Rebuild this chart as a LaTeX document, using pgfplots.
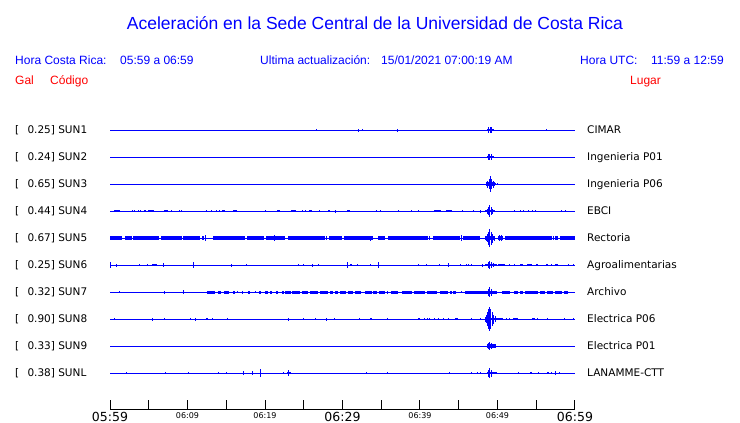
\documentclass[border=0pt]{standalone}
\usepackage{pgfplots}
\pgfplotsset{compat=1.18}
\usepackage{fontspec}
\setmainfont{Liberation Sans}
\newfontfamily\dv{DejaVu Sans}
\definecolor{tr}{RGB}{0,0,255}
\definecolor{hd}{RGB}{255,0,0}

\pgfplotsset{
  base/.style={color=tr, line width=1pt, mark=none},
  spk/.style={color=tr, line width=1pt, mark=none,
    error bars/y dir=both, error bars/y explicit, error bars/error mark=none,
    error bars/error bar style={draw=tr, line width=1pt}},
  band/.style={color=tr, line width=1pt, mark=none,
    error bars/x dir=both, error bars/x explicit, error bars/error mark=none,
    error bars/error bar style={draw=tr, line width=#1}},
}
\newcommand{\bigt}[1]{{\dv\fontsize{12.5}{12.5}\selectfont #1}}
\newcommand{\smlt}[1]{{\dv\fontsize{8}{8}\selectfont #1}}

\begin{document}
\begin{tikzpicture}[x=1pt,y=1pt]
\useasboundingbox (0,0) rectangle (740,-423);

\begin{axis}[
  at={(110pt,-409pt)}, anchor=south west,
  scale only axis, width=465pt, height=306pt,
  xmin=0, xmax=60, ymin=0, ymax=306,
  axis x line=bottom, axis y line=none,
  x axis line style={-, black, line width=1pt},
  xtick={0,5,...,60},
  xticklabels={\bigt{05:59},,\smlt{06:09},,\smlt{06:19},,\bigt{06:29},,\smlt{06:39},,\smlt{06:49},,\bigt{06:59}},
  xtick align=inside, major tick length=9pt,
  x tick style={black, line width=1pt},
  xticklabel style={inner sep=0pt, anchor=north, yshift=-3pt},
  ytick=\empty, clip=false,
]
% SUN1 CIMAR
\addplot[base] coordinates {(0,279)(60,279)};
\addplot[spk] coordinates {(26.62,279)+-(0,0.8) (32.04,279)+-(0,1.5) (32.56,279)+-(0,1) (37.08,279)+-(0,1.5) (56.34,279)+-(0,1)
  (48.90,279)+-(0,3.3) (49.07,279)+-(0,3.3) (49.25,279)+-(0,3.3)};
\addplot[band=2.7pt] coordinates {(49.08,279)+-(0.47,0)};

% SUN2 Ingenieria P01
\addplot[base] coordinates {(0,252)(60,252)};
\addplot[spk] coordinates {(48.82,252)+-(0,3.3) (49.03,252)+-(0,3.3) (49.25,252)+-(0,3.3)};
\addplot[band=2.7pt] coordinates {(49.08,252)+-(0.47,0)};

% SUN3 Ingenieria P06
\addplot[base] coordinates {(0,225)(60,225)};
\addplot[spk] coordinates {(49.12,225)+-(0,8.3) (48.95,225)+-(0,5) (49.29,225)+-(0,5) (48.77,225)+-(0,3.5) (49.46,225)+-(0,3.5)
  (49.80,225)+-(0,1.2) (50.01,225)+-(0,1)};
\addplot[band=4pt] coordinates {(49.10,225)+-(0.58,0)};

% SUN4 EBCI
\addplot[base] coordinates {(0,198)(60,198)};
\addplot[spk] coordinates {(2.88,198)+-(0,1.3) (3.14,198)+-(0,1.3) (3.74,198)+-(0,1.3) (3.96,198)+-(0,1.3) (4.39,198)+-(0,1.3)
  (4.60,198)+-(0,1.3) (7.96,198)+-(0,1) (9.03,198)+-(0,1.3) (9.25,198)+-(0,1.3) (12.47,198)+-(0,1.3) (13.12,198)+-(0,1)
  (13.68,198)+-(0,1.3) (14.15,198)+-(0,1.3) (20.00,198)+-(0,1.3) (24.86,198)+-(0,1) (25.25,198)+-(0,1) (27.01,198)+-(0,1)
  (28.13,198)+-(0,1.3) (28.30,198)+-(0,1) (29.12,198)+-(0,1.5) (34.41,198)+-(0,1) (34.88,198)+-(0,1) (37.25,198)+-(0,1.3)
  (38.88,198)+-(0,1.3) (39.78,198)+-(0,1.3) (45.46,198)+-(0,1) (46.88,198)+-(0,1) (47.87,198)+-(0,1.5) (52.17,198)+-(0,1)
  (52.95,198)+-(0,1.3) (53.38,198)+-(0,1.3) (54.06,198)+-(0,1.3) (54.49,198)+-(0,1.3) (54.84,198)+-(0,1.3) (58.24,198)+-(0,1)
  (58.75,198)+-(0,1.3)
  (49.03,198)+-(0,6) (48.86,198)+-(0,4) (49.20,198)+-(0,4) (48.69,198)+-(0,2.5) (49.37,198)+-(0,2.5)};
\addplot[band=2.7pt] coordinates {(0.88,198)+-(0.37,0) (5.33,198)+-(0.39,0) (7.18,198)+-(0.26,0) (14.67,198)+-(0.17,0)
  (16.13,198)+-(0.26,0) (21.72,198)+-(0.17,0) (23.63,198)+-(0.32,0) (25.85,198)+-(0.17,0) (30.75,198)+-(0.22,0)
  (42.26,198)+-(0.45,0) (43.72,198)+-(0.37,0) (49.03,198)+-(0.65,0)};

% SUN5 Rectoria
\addplot[base] coordinates {(0,171)(60,171)};
\addplot[spk] coordinates {(6.67,171)+-(0,2) (12.26,171)+-(0,3) (18.06,171)+-(0,2) (18.37,171)+-(0,2) (21.29,171)+-(0,3)
  (23.66,171)+-(0,2) (26.37,171)+-(0,2) (27.96,171)+-(0,2) (33.63,171)+-(0,2.5) (41.29,171)+-(0,2) (45.16,171)+-(0,2)
  (45.38,171)+-(0,3) (45.55,171)+-(0,2) (50.24,171)+-(0,3) (50.54,171)+-(0,3) (57.20,171)+-(0,2) (57.76,171)+-(0,1.5)
  (49.03,171)+-(0,9.3) (48.86,171)+-(0,6.5) (49.20,171)+-(0,6.5) (48.69,171)+-(0,4) (49.37,171)+-(0,4.5)
  (48.52,171)+-(0,2.5) (49.55,171)+-(0,2.5)};
\addplot[band=3.3pt] coordinates {(0.795,171)+-(0.795,0) (2.41,171)+-(0.47,0) (4.645,171)+-(1.675,0) (7.915,171)+-(1.335,0)
  (10.515,171)+-(1.095,0) (11.98,171)+-(0.15,0) (15.375,171)+-(2.045,0) (18.77,171)+-(1.14,0) (21.335,171)+-(1.245,0)
  (25.33,171)+-(2.41,0) (29.12,171)+-(0.86,0) (32.02,171)+-(1.87,0) (35.05,171)+-(0.43,0) (38.49,171)+-(2.58,0)
  (43.375,171)+-(1.655,0) (46.665,171)+-(1.075,0) (49.035,171)+-(0.645,0) (50.43,171)+-(0.32,0) (53.98,171)+-(3.01,0)
  (57.635,171)+-(0.215,0) (59.03,171)+-(0.97,0)};

% SUN6 Agroalimentarias
\addplot[base] coordinates {(0,144)(60,144)};
\addplot[spk] coordinates {(0.09,144)+-(0,3.3) (0.86,144)+-(0,1.5) (3.78,144)+-(0,1) (4.86,144)+-(0,1.3) (6.92,144)+-(0,2.3)
  (10.75,144)+-(0,3) (15.70,144)+-(0,1.5) (17.63,144)+-(0,1) (24.30,144)+-(0,1.3) (24.99,144)+-(0,1.3) (26.19,144)+-(0,1.5)
  (26.88,144)+-(0,1) (30.62,144)+-(0,3) (31.91,144)+-(0,1) (33.55,144)+-(0,1) (34.62,144)+-(0,3) (39.78,144)+-(0,1)
  (40.90,144)+-(0,1) (42.58,144)+-(0,1) (43.66,144)+-(0,2) (45.29,144)+-(0,1) (46.02,144)+-(0,1) (46.32,144)+-(0,1)
  (46.67,144)+-(0,1) (48.04,144)+-(0,1.5) (51.61,144)+-(0,1) (52.17,144)+-(0,1) (56.99,144)+-(0,1) (59.14,144)+-(0,1)
  (59.78,144)+-(0,1)
  (49.03,144)+-(0,4) (48.82,144)+-(0,3) (49.25,144)+-(0,3) (49.50,144)+-(0,2)};
\addplot[band=2.5pt] coordinates {(5.74,144)+-(0.28,0) (31.075,144)+-(0.105,0) (50.54,144)+-(0.43,0) (53.075,144)+-(0.175,0)
  (54.085,144)+-(0.325,0) (55.12,144)+-(0.15,0) (56.385,144)+-(0.175,0) (57.635,144)+-(0.215,0) (49.14,144)+-(0.75,0)};

% SUN7 Archivo
\addplot[base] coordinates {(0,117)(60,117)};
\addplot[spk] coordinates {(1.29,117)+-(0,1) (7.01,117)+-(0,1.5) (9.51,117)+-(0,2.2) (16.47,117)+-(0,1.3) (18.80,117)+-(0,1.3)
  (45.38,117)+-(0,1.3)
  (49.03,117)+-(0,4.7) (48.86,117)+-(0,3.5) (49.20,117)+-(0,3.5)};
\addplot[band=3pt] coordinates {(13.01,117)+-(0.54,0) (14.15,117)+-(0.17,0) (15.05,117)+-(0.30,0) (15.98,117)+-(0.15,0)
  (17.095,117)+-(0.105,0) (17.935,117)+-(0.175,0) (19.315,117)+-(0.085,0) (20.215,117)+-(0.215,0) (20.775,117)+-(0.175,0)
  (21.59,117)+-(0.13,0) (22.26,117)+-(0.11,0) (22.965,117)+-(0.385,0) (24.025,117)+-(0.495,0) (25.115,117)+-(0.385,0)
  (26.365,117)+-(0.515,0) (27.615,117)+-(0.475,0) (28.625,117)+-(0.195,0) (29.245,117)+-(0.215,0) (30.045,117)+-(0.365,0)
  (31.075,117)+-(0.325,0) (32.00,117)+-(0.39,0) (33.33,117)+-(0.43,0) (34.195,117)+-(0.215,0) (35.095,117)+-(0.385,0)
  (35.805,117)+-(0.105,0) (36.73,117)+-(0.47,0) (38.275,117)+-(0.645,0) (39.955,117)+-(0.685,0) (41.505,117)+-(0.645,0)
  (43.12,117)+-(0.54,0) (43.98,117)+-(0.11,0) (44.45,117)+-(0.15,0) (47.85,117)+-(2.04,0) (51.075,117)+-(0.535,0)
  (52.41,117)+-(0.28,0) (53.115,117)+-(0.215,0) (54.41,117)+-(0.86,0) (55.805,117)+-(0.325,0) (56.77,117)+-(0.43,0)
  (57.895,117)+-(0.475,0) (58.88,117)+-(0.26,0)};

% SUN8 Electrica P06
\addplot[base] coordinates {(0,90)(60,90)};
\addplot[spk] coordinates {(0.56,90)+-(0,1) (5.46,90)+-(0,1.5) (7.01,90)+-(0,1) (10.36,90)+-(0,1) (11.05,90)+-(0,1.5)
  (13.20,90)+-(0,1) (15.18,90)+-(0,1) (23.01,90)+-(0,1.5) (24.95,90)+-(0,1) (26.49,90)+-(0,1) (27.91,90)+-(0,1.5)
  (29.03,90)+-(0,1) (32.17,90)+-(0,1) (35.83,90)+-(0,1) (40.56,90)+-(0,1) (40.99,90)+-(0,1) (41.29,90)+-(0,1)
  (41.85,90)+-(0,1) (42.37,90)+-(0,1) (43.01,90)+-(0,1) (43.66,90)+-(0,1) (46.67,90)+-(0,1.3) (47.78,90)+-(0,1.3)
  (51.18,90)+-(0,1) (51.53,90)+-(0,1) (55.18,90)+-(0,1) (56.47,90)+-(0,1.3) (58.62,90)+-(0,1) (59.78,90)+-(0,1)
  (49.03,90)+-(0,12) (48.90,90)+-(0,10) (49.16,90)+-(0,10) (48.73,90)+-(0,7) (49.33,90)+-(0,7) (48.60,90)+-(0,4)
  (49.50,90)+-(0,4.5) (49.68,90)+-(0,3) (48.47,90)+-(0,2.5)};
\addplot[band=2.7pt] coordinates {(12.535,90)+-(0.145,0) (33.72,90)+-(0.13,0) (39.89,90)+-(0.11,0) (44.735,90)+-(0.215,0)
  (52.365,90)+-(0.325,0) (54.665,90)+-(0.175,0) (50.32,90)+-(0.43,0) (49.14,90)+-(0.75,0)};

% SUN9 Electrica P01
\addplot[base] coordinates {(0,63)(60,63)};
\addplot[spk] coordinates {(48.82,63)+-(0,3) (49.03,63)+-(0,4) (49.25,63)+-(0,3)};
\addplot[band=3.3pt] coordinates {(49.18,63)+-(0.58,0)};

% SUNL LANAMME-CTT
\addplot[base] coordinates {(0,36)(60,36)};
\addplot[spk] coordinates {(2.15,36)+-(0,1) (7.10,36)+-(0,1) (10.11,36)+-(0,1.3) (13.98,36)+-(0,1.3) (15.05,36)+-(0,1)
  (17.20,36)+-(0,2.3) (18.37,36)+-(0,2) (19.48,36)+-(0,4) (22.45,36)+-(0,1) (23.05,36)+-(0,3) (33.12,36)+-(0,1)
  (35.83,36)+-(0,1) (43.87,36)+-(0,1) (46.67,36)+-(0,1.3) (47.40,36)+-(0,1) (47.87,36)+-(0,1) (52.69,36)+-(0,1)
  (55.27,36)+-(0,1) (56.99,36)+-(0,1) (57.51,36)+-(0,2.3) (57.94,36)+-(0,1)
  (49.03,36)+-(0,5) (48.86,36)+-(0,3.5) (49.20,36)+-(0,3.5)};
\addplot[band=2.7pt] coordinates {(23.075,36)+-(0.275,0) (49.245,36)+-(0.645,0) (54.34,36)+-(0.15,0) (56.49,36)+-(0.15,0)};
\end{axis}

% titles and headers
\node[anchor=base, text=tr, inner sep=0pt, font=\fontsize{17.5}{17.5}\selectfont] at (375,-29.5)
  {Aceleración en la Sede Central de la Universidad de Costa Rica};
\begin{scope}[every node/.style={anchor=base west, inner sep=0pt, font=\fontsize{12}{12}\selectfont}]
  \node[text=tr] at (15,-64.3) {Hora Costa Rica:};
  \node[text=tr] at (120,-64.3) {05:59 a 06:59};
  \node[text=tr] at (260,-64.3) {Ultima actualización:};
  \node[text=tr] at (381,-64.3) {15/01/2021 07:00:19 AM};
  \node[text=tr] at (580,-64.3) {Hora UTC:};
  \node[text=tr] at (651,-64.3) {11:59 a 12:59};
  \node[text=hd] at (15,-84.3) {Gal};
  \node[text=hd] at (50,-84.3) {Código};
  \node[text=hd] at (630,-84.3) {Lugar};
\end{scope}

% station labels
\begin{scope}[every node/.style={anchor=base west, inner sep=0pt, font=\dv\fontsize{10.5}{10.5}\selectfont}]
  \foreach \r/\v/\c/\l in {130/0.25/SUN1/CIMAR, 157/0.24/SUN2/Ingenieria P01, 184/0.65/SUN3/Ingenieria P06,
      211/0.44/SUN4/EBCI, 238/0.67/SUN5/Rectoria, 265/0.25/SUN6/Agroalimentarias, 292/0.32/SUN7/Archivo,
      319/0.90/SUN8/Electrica P06, 346/0.33/SUN9/Electrica P01, 373/0.38/SUNL/LANAMME-CTT} {
    \node at (15,-\r-3.8) {[};
    \node at (27.3,-\r-3.8) {\v] \c};
    \node at (587,-\r-3.8) {\l};
  }
\end{scope}
\end{tikzpicture}
\end{document}
